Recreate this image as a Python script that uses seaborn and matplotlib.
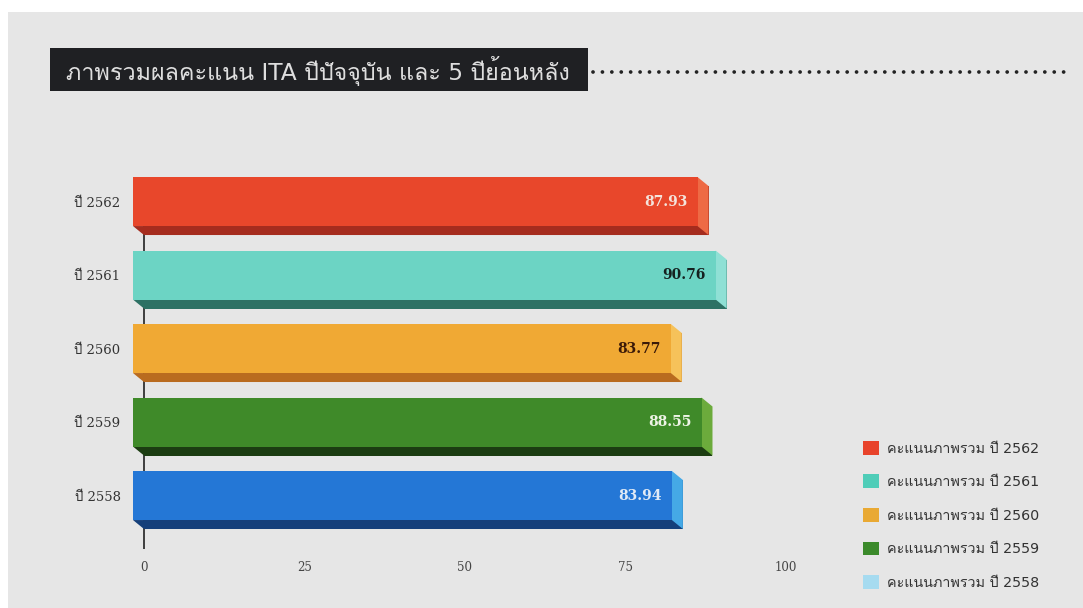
import numpy as np
import pandas as pd
import matplotlib
matplotlib.use("Agg")
import matplotlib.pyplot as plt
import matplotlib.font_manager as fm
from matplotlib.ft2font import FT2Font
from matplotlib.patches import Rectangle, Patch, Polygon
from matplotlib.lines import Line2D
import seaborn as sns

# Data
years = ['ปี 2562', 'ปี 2561', 'ปี 2560', 'ปี 2559', 'ปี 2558']
scores = [87.93, 90.76, 83.77, 88.55, 83.94]
legend_labels = ['คะแนนภาพรวม ปี 2562', 'คะแนนภาพรวม ปี 2561', 'คะแนนภาพรวม ปี 2560',
                 'คะแนนภาพรวม ปี 2559', 'คะแนนภาพรวม ปี 2558']
title = 'ภาพรวมผลคะแนน ITA ปีปัจจุบัน และ 5 ปีย้อนหลัง'

# Colours: front face, right side, bottom face, value label, legend swatch
front_colors = ['#e8472b', '#6cd4c4', '#f0a934', '#3f8a29', '#2477d6']
side_colors = ['#ee6a45', '#8fe0d5', '#f6c25a', '#6cab3c', '#45a9e6']
bottom_colors = ['#a52c1e', '#2d7164', '#b96b1f', '#1c3d12', '#143f7a']
label_colors = ['#f4e4dc', '#15211f', '#3b1a08', '#eef4e6', '#e2ebf6']
legend_colors = ['#e8432b', '#4fcdb8', '#e9a933', '#3b8a2b', '#a6dbf0']


def find_thai_font():
    for entry in fm.fontManager.ttflist:
        try:
            if 0x0E1B in FT2Font(entry.fname).get_charmap():
                return entry.name
        except Exception:
            continue
    return None


sns.set_theme(style='white')
thai = find_thai_font()
sans = ['DejaVu Sans'] + ([thai] if thai else [])
serif = ['DejaVu Serif'] + ([thai] if thai else [])
plt.rcParams['font.family'] = sans

W, H = 1083, 608
fig = plt.figure(figsize=(W / 100, H / 100), dpi=100, facecolor='white')

# grey page with a thin white margin at top/left
fig.add_artist(Rectangle((8 / W, 0), 1, 1 - 12 / H, transform=fig.transFigure,
                         facecolor='#e6e6e6', edgecolor='none', zorder=-10))

# title box
fig.add_artist(Rectangle((50 / W, 1 - 91 / H), 538 / W, 43 / H, transform=fig.transFigure,
                         facecolor='#1f2023', edgecolor='none'))
fig.text(66 / W, 1 - 71 / H, title, color='#dedede', fontsize=16.8, va='center', ha='left',
         family=sans)
fig.add_artist(Line2D([593 / W, 1072 / W], [1 - 72 / H, 1 - 72 / H], transform=fig.transFigure,
                      color='#222222', lw=2.7, linestyle=(0, (0.01, 2.5)),
                      dash_capstyle='round'))

# chart axes: x=0 at 144px, 6.42 px per unit
ax = fig.add_axes([0.11518, 0.0977, 0.64022, 0.6165])
ax.set_facecolor('none')

df = pd.DataFrame({'year': years, 'score': scores})
bar_w = 0.667
dx = 1.71   # depth offset in x (data units)
dy = 0.122  # depth offset in y (category units)

ax.axvline(0, ymax=0.985, color='#222222', lw=1.2, zorder=0)

# back/bottom of each 3D bar
sns.barplot(data=df, x='score', y='year', hue='year', palette=bottom_colors, legend=False,
            width=bar_w, orient='h', ax=ax, saturation=1, zorder=2, linewidth=0)

for i, v in enumerate(scores):
    top_b, bot_b = i - bar_w / 2, i + bar_w / 2
    top_f, bot_f = top_b - dy, bot_b - dy
    # bottom face
    ax.add_patch(Polygon([(-dx, bot_f), (v - dx, bot_f), (v, bot_b), (0, bot_b)],
                         closed=True, facecolor=bottom_colors[i], edgecolor='none',
                         zorder=3, clip_on=False))
    # right side face
    ax.add_patch(Polygon([(v - dx, top_f), (v, top_b), (v, bot_b), (v - dx, bot_f)],
                         closed=True, facecolor=side_colors[i], edgecolor='none',
                         zorder=3, clip_on=False))

# front faces
ax.barh(np.arange(len(scores)) - dy, scores, left=-dx, height=bar_w, color=front_colors,
        edgecolor='none', linewidth=0, zorder=4, clip_on=False)

for i, v in enumerate(scores):
    ax.annotate(f'{v:.2f}', xy=(v - dx, i - dy), xytext=(-7, 0), textcoords='offset points',
                ha='right', va='center', fontsize=10, fontweight='bold', family='DejaVu Serif',
                color=label_colors[i], zorder=5)

ax.set_xlim(-3, 105)
ax.set_ylim(4.6, -0.5)
ax.set_xticks([0, 25, 50, 75, 100])
ax.set_xticklabels(['0', '25', '50', '75', '100'], family=serif, fontsize=8.5, color='#444444')
ax.set_yticks(np.arange(len(years)) - dy)
ax.set_yticklabels(years, family=serif, fontsize=9.5, color='#333333')
ax.tick_params(axis='x', length=0, pad=9)
ax.tick_params(axis='y', length=0, pad=3)
ax.set_xlabel('')
ax.set_ylabel('')
for s in ax.spines.values():
    s.set_visible(False)

handles = [Patch(facecolor=c, edgecolor='none') for c in legend_colors]
fig.legend(handles, legend_labels, loc='upper left', bbox_to_anchor=(850 / W, 1 - 428 / H),
           frameon=False, handlelength=1.1, handleheight=1.1, handletextpad=0.6,
           labelspacing=1.32, prop={'family': sans, 'size': 10.3}, labelcolor='#333333')

fig.savefig('out.png', dpi=100, facecolor=fig.get_facecolor())
